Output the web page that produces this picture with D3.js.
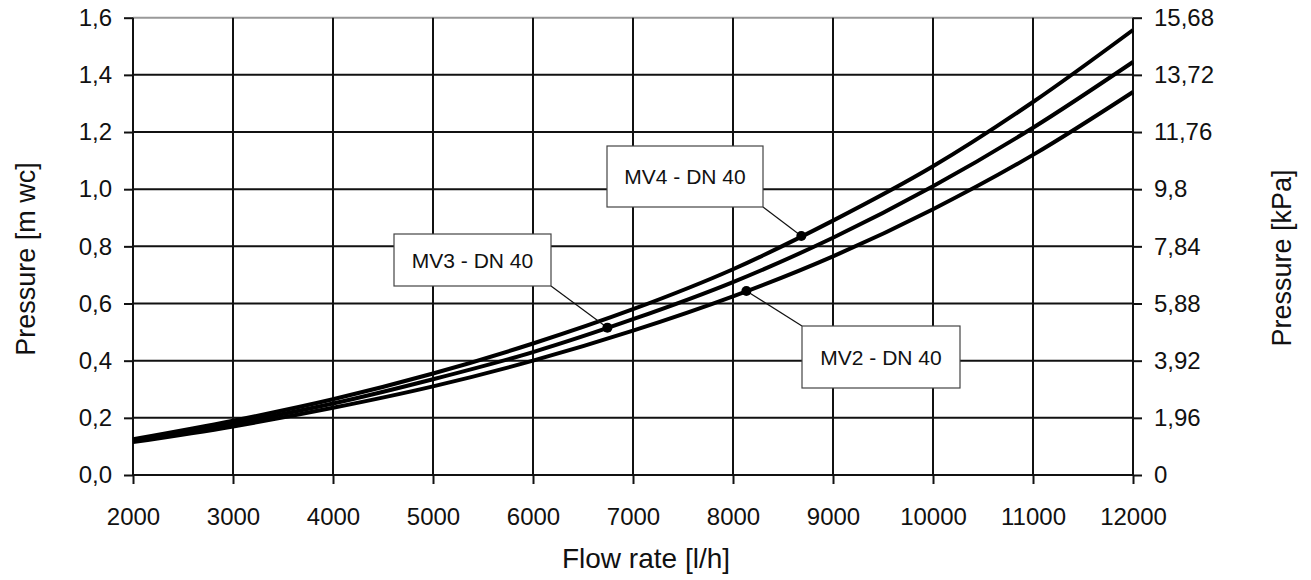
<!DOCTYPE html>
<html lang="en">
<head>
<meta charset="UTF-8">
<title>Pressure drop MV2 / MV3 / MV4 - DN 40</title>
<script src="https://d3js.org/d3.v7.min.js"></script>
<style>
  body { margin: 0; background: #fff; }
  svg text { font-family: "Liberation Sans", Arial, sans-serif; fill: #111; }
</style>
</head>
<body>
<svg id="chart"></svg>
<script>
// data
var flow = [2000, 3000, 4000, 5000, 6000, 7000, 8000, 9000, 10000, 11000, 12000];
var mv4 = [0.125, 0.19, 0.265, 0.355, 0.46, 0.58, 0.72, 0.89, 1.08, 1.305, 1.557];
var mv3 = [0.12, 0.18, 0.25, 0.335, 0.43, 0.545, 0.675, 0.83, 1.01, 1.215, 1.445];
var mv2 = [0.115, 0.17, 0.235, 0.31, 0.4, 0.505, 0.625, 0.765, 0.93, 1.12, 1.34];

var flowTicks = [2000, 3000, 4000, 5000, 6000, 7000, 8000, 9000, 10000, 11000, 12000];
var mwcTicks = [0, 0.2, 0.4, 0.6, 0.8, 1.0, 1.2, 1.4, 1.6];
var mwcLabels = ["0,0", "0,2", "0,4", "0,6", "0,8", "1,0", "1,2", "1,4", "1,6"];
var kpaLabels = ["0", "1,96", "3,92", "5,88", "7,84", "9,8", "11,76", "13,72", "15,68"];

var seriesNames = ["MV4 - DN 40", "MV3 - DN 40", "MV2 - DN 40"];
var markerFlow = [8683, 6744, 8134];

var W = 1311, H = 580;
var plot = { left: 133, right: 1133, top: 17.7, bottom: 475 };

var svg = d3.select("#chart").attr("width", W).attr("height", H);

var x = d3.scaleLinear().domain([2000, 12000]).range([plot.left, plot.right]);
var y = d3.scaleLinear().domain([0, 1.6]).range([plot.bottom, plot.top]);

// grid
svg.append("g").selectAll("line")
    .data(mwcTicks)
  .enter().append("line")
    .attr("x1", plot.left).attr("x2", plot.right)
    .attr("y1", function (d) { return y(d); })
    .attr("y2", function (d) { return y(d); })
    .attr("stroke", function (d) { return d === 1.6 ? "#999" : "#111"; })
    .attr("stroke-width", 2);

svg.append("g").selectAll("line")
    .data(flowTicks)
  .enter().append("line")
    .attr("x1", function (d) { return x(d); })
    .attr("x2", function (d) { return x(d); })
    .attr("y1", plot.top).attr("y2", plot.bottom)
    .attr("stroke", "#111")
    .attr("stroke-width", 2);

// axes
function styleAxis(g) {
  g.select(".domain").remove();
  g.selectAll(".tick line").attr("stroke", "#111").attr("stroke-width", 2);
  g.selectAll(".tick text").attr("font-size", 24).attr("font-family", null).attr("fill", "#111");
}

svg.append("g")
    .attr("transform", "translate(" + plot.left + ",0)")
    .call(d3.axisLeft(y).tickValues(mwcTicks).tickSize(9).tickPadding(12)
      .tickFormat(function (d, i) { return mwcLabels[i]; }))
    .call(styleAxis);

svg.append("g")
    .attr("transform", "translate(" + plot.right + ",0)")
    .call(d3.axisRight(y).tickValues(mwcTicks).tickSize(9).tickPadding(12)
      .tickFormat(function (d, i) { return kpaLabels[i]; }))
    .call(styleAxis);

svg.append("g")
    .attr("transform", "translate(0," + plot.bottom + ")")
    .call(d3.axisBottom(x).tickValues(flowTicks).tickSize(9).tickPadding(24)
      .tickFormat(function (d) { return d; }))
    .call(styleAxis);

// axis titles
svg.append("text")
    .attr("x", 646)
    .attr("y", 568)
    .attr("text-anchor", "middle")
    .attr("font-size", 28)
    .text("Flow rate [l/h]");

svg.append("text")
    .attr("transform", "translate(35,259) rotate(-90)")
    .attr("text-anchor", "middle")
    .attr("font-size", 27)
    .text("Pressure [m wc]");

svg.append("text")
    .attr("transform", "translate(1291,258) rotate(-90)")
    .attr("text-anchor", "middle")
    .attr("font-size", 27)
    .text("Pressure [kPa]");

// curves
var line = d3.line()
    .x(function (d) { return x(d[0]); })
    .y(function (d) { return y(d[1]); })
    .curve(d3.curveMonotoneX);

var allSeries = [mv4, mv3, mv2];
svg.append("g").selectAll("path")
    .data(allSeries)
  .enter().append("path")
    .attr("d", function (s) { return line(flow.map(function (f, i) { return [f, s[i]]; })); })
    .attr("fill", "none")
    .attr("stroke", "#000")
    .attr("stroke-width", 4);

// annotations
function valueAt(s, f) {
  return d3.scaleLinear().domain(flow).range(s)(f);
}

// box corners (pixels) and the corner the leader leaves from
var boxes = [
  { x: 607, y: 146, w: 156, h: 61, cx: 763, cy: 207 },
  { x: 394, y: 234, w: 157, h: 52, cx: 551, cy: 286 },
  { x: 802, y: 326, w: 158, h: 62, cx: 802, cy: 326 }
];

var ann = svg.append("g");
allSeries.forEach(function (s, i) {
  var b = boxes[i];
  var px = x(markerFlow[i]), py = y(valueAt(s, markerFlow[i]));
  ann.append("line")
      .attr("x1", b.cx).attr("y1", b.cy)
      .attr("x2", px).attr("y2", py)
      .attr("stroke", "#111").attr("stroke-width", 1.2);
  ann.append("circle")
      .attr("cx", px).attr("cy", py).attr("r", 5)
      .attr("fill", "#000");
  ann.append("rect")
      .attr("x", b.x).attr("y", b.y)
      .attr("width", b.w).attr("height", b.h)
      .attr("fill", "#fff")
      .attr("stroke", "#444").attr("stroke-width", 1.2);
  ann.append("text")
      .attr("x", b.x + b.w / 2).attr("y", b.y + b.h / 2 + 7.5)
      .attr("text-anchor", "middle")
      .attr("font-size", 21)
      .text(seriesNames[i]);
});
</script>
</body>
</html>
